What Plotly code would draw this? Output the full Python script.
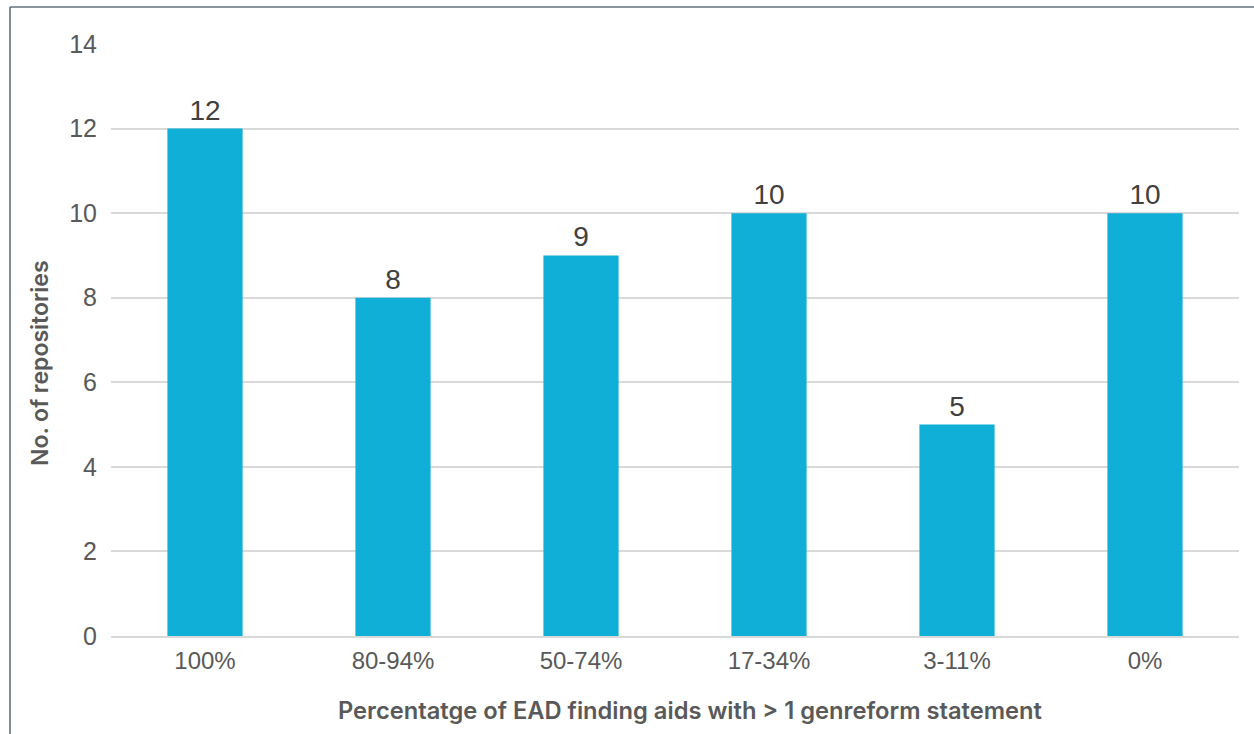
import plotly.graph_objects as go

categories = ["100%", "80-94%", "50-74%", "17-34%", "3-11%", "0%"]
repositories = [12, 8, 9, 10, 5, 10]
y_ticks = [0, 2, 4, 6, 8, 10, 12, 14]

x_title = "Percentatge of EAD finding aids with > 1 genreform statement"
y_title = "No. of repositories"

W, H = 1254, 734
L, R, T, B = 111, 15, 44, 98
pw, ph = W - L - R, H - T - B


def px_x(x):
    return (x - L) / pw


def px_y(y):
    return (H - B - y) / ph


title_font = dict(family="Inter", size=23, color="#595959", weight=600)

fig = go.Figure(
    go.Bar(
        x=categories,
        y=repositories,
        marker=dict(color="#10AFD7", line=dict(width=0)),
        text=[str(v) for v in repositories],
        textposition="outside",
        textfont=dict(family="Liberation Sans", size=28, color="#404040"),
        cliponaxis=False,
    )
)

fig.update_layout(
    width=W,
    height=H,
    margin=dict(l=L, r=R, t=T, b=B),
    paper_bgcolor="white",
    plot_bgcolor="white",
    bargap=0.6,
    showlegend=False,
    xaxis=dict(
        showgrid=False,
        showline=True,
        linecolor="#D9D9D9",
        linewidth=2,
        tickfont=dict(family="Liberation Sans", size=24, color="#595959"),
        ticks="outside",
        ticklen=2,
        tickcolor="rgba(0,0,0,0)",
    ),
    yaxis=dict(
        range=[0, 14],
        tickvals=y_ticks,
        showgrid=True,
        gridcolor="#D9D9D9",
        gridwidth=2,
        zeroline=False,
        showline=False,
        tickfont=dict(family="Liberation Sans", size=25, color="#595959"),
        ticks="outside",
        ticklen=8,
        tickcolor="rgba(0,0,0,0)",
    ),
    annotations=[
        dict(text=x_title, xref="paper", yref="paper",
             x=px_x(690), y=px_y(710), xanchor="center", yanchor="middle",
             showarrow=False, font={**title_font, "size": 23.7}),
        dict(text=y_title, xref="paper", yref="paper",
             x=px_x(40), y=px_y(363), xanchor="center", yanchor="middle",
             textangle=-90, showarrow=False, font=title_font),
    ],
    shapes=[
        dict(type="line", xref="paper", yref="paper",
             x0=px_x(10), x1=px_x(W), y0=px_y(7), y1=px_y(7),
             line=dict(color="#8A949C", width=2)),
        dict(type="line", xref="paper", yref="paper",
             x0=px_x(10), x1=px_x(10), y0=px_y(7), y1=px_y(H),
             line=dict(color="#5A6570", width=1.5)),
    ],
)

fig.write_html("out.html")
